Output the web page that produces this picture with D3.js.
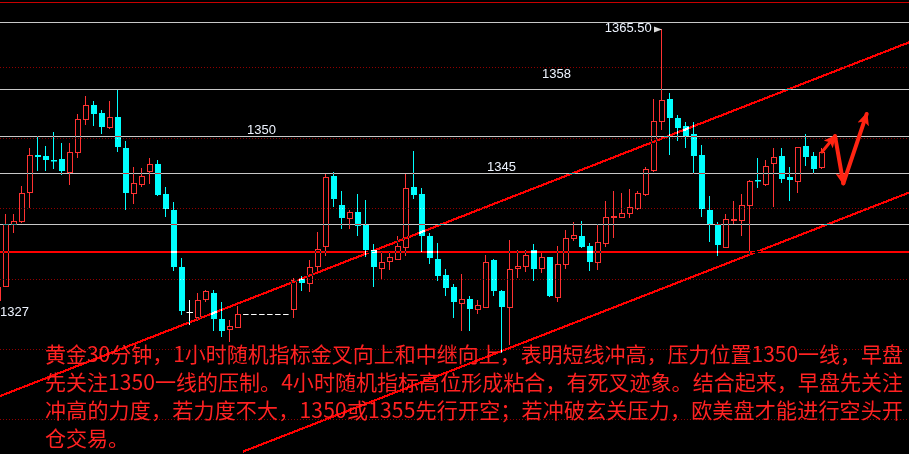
<!DOCTYPE html>
<html><head><meta charset="utf-8">
<script src="https://cdn.jsdelivr.net/npm/d3@7/dist/d3.min.js"></script>
<style>
html,body{margin:0;padding:0;background:#000;overflow:hidden}
svg{display:block}
</style></head><body>
<svg id="chart" width="909" height="454"></svg>
<script>
// ---------------- data ----------------
const candleIndex = d3.range(-1, 103);
const opens = [1327.0,
 1328.9,1337.7,1338.2,1342.3,1347.6,1347.4,1346.9,1347.0,1345.1,1348.0,
 1352.7,1354.7,1353.5,1351.5,1352.9,1348.6,1342.1,1343.4,1345.3,1346.2,
 1342.0,1339.8,1331.7,1325.3,1324.5,1327.1,1328.0,1324.2,1322.8,1323.1,
 null,null,null,null,null,null,
 1325.7,1330.0,1329.3,1331.8,1334.6,1344.5,1340.5,1338.6,1339.4,1337.6,
 1334.1,1331.5,1332.5,1332.8,1334.5,1343.0,1342.0,1336.1,1332.7,1330.5,
 1328.8,1326.5,1327.1,1325.6,1326.0,1332.6,1328.2,1325.9,1331.5,1331.8,
 1334.1,1331.5,1333.0,1327.4,1332.1,1335.8,1336.1,1334.6,1332.3,1335.1,
 1338.8,1338.7,1339.3,1340.0,1342.0,1345.4,1352.4,1355.5,1352.8,1351.6,
 1350.5,1347.5,1339.8,1337.7,1334.5,1338.3,1338.3,1340.5,1344.0,1343.4,
 1346.4,1347.4,1344.4,1343.9,1348.8,1347.4,1345.9];
const highs = [1328.8,
 1339.1,1339.1,1343.1,1348.6,1350.2,1348.8,1350.8,1349.2,1349.2,1353.3,
 1355.9,1355.2,1353.9,1355.2,1356.8,1349.5,1345.8,1345.7,1347.1,1346.8,
 1343.0,1340.8,1332.9,1326.9,1327.9,1328.3,1328.3,1326.6,1324.1,1326.1,
 null,null,null,null,null,null,
 1330.1,1330.4,1332.6,1336.6,1344.9,1345.1,1342.5,1339.8,1342.0,1341.1,
 1334.9,1333.7,1333.7,1336.0,1344.9,1348.1,1342.8,1336.4,1335.0,1331.3,
 1329.2,1330.7,1327.5,1327.0,1333.3,1332.7,1328.3,1335.4,1334.1,1334.0,
 1334.9,1333.6,1333.0,1334.6,1336.9,1338.0,1338.1,1335.0,1337.7,1341.0,
 1342.5,1342.1,1342.7,1342.5,1345.9,1355.5,1365.5,1356.4,1353.2,1352.2,
 1352.2,1348.9,1341.7,1338.0,1339.1,1341.0,1342.0,1344.0,1347.1,1346.9,
 1348.6,1348.5,1345.9,1348.7,1350.5,1348.0,1348.6];
const lows = [1326.9,
 1328.8,1336.5,1337.9,1340.0,1345.3,1345.3,1345.5,1344.7,1343.3,1347.1,
 1351.8,1351.7,1350.5,1351.2,1348.0,1339.7,1340.6,1343.0,1343.4,1341.7,
 1338.7,1331.0,1324.8,1323.4,1323.9,1326.7,1322.6,1321.7,1321.0,1323.0,
 null,null,null,null,null,null,
 1324.4,1328.2,1328.1,1331.0,1333.2,1340.2,1337.0,1337.1,1336.1,1333.1,
 1328.8,1329.9,1331.2,1332.7,1333.2,1341.3,1333.8,1332.0,1329.7,1327.5,
 1324.4,1322.5,1322.6,1325.0,1325.8,1327.5,1319.4,1320.5,1330.1,1330.9,
 1329.6,1330.8,1327.4,1326.7,1331.3,1335.3,1334.3,1331.1,1331.2,1334.5,
 1335.8,1338.6,1338.6,1339.7,1341.7,1345.1,1351.1,1347.5,1349.5,1348.5,
 1344.9,1338.7,1335.2,1333.2,1334.5,1337.7,1336.0,1333.4,1342.9,1343.2,
 1340.1,1343.6,1341.0,1342.1,1346.0,1344.9,1345.5];
const closes = [1328.8,
 1337.7,1338.2,1342.2,1347.6,1347.2,1346.8,1346.8,1345.3,1347.9,1352.7,
 1354.6,1353.4,1351.5,1353.0,1348.7,1342.1,1343.5,1344.6,1346.2,1341.8,
 1339.9,1331.6,1325.4,1325.3,1327.0,1328.2,1324.2,1322.6,1323.2,1325.0,
 null,null,null,null,null,null,
 1329.8,1329.3,1331.7,1334.2,1344.4,1341.3,1338.6,1339.4,1337.5,1334.0,
 1331.6,1332.3,1333.0,1334.6,1342.8,1341.9,1336.0,1332.9,1330.4,1328.7,
 1326.7,1327.1,1325.6,1326.2,1332.4,1328.2,1325.9,1331.4,1331.8,1333.4,
 1331.3,1333.0,1327.5,1332.1,1335.7,1336.2,1334.5,1332.3,1335.2,1338.7,
 1338.9,1339.3,1340.1,1342.2,1345.5,1352.4,1355.3,1352.8,1351.4,1350.2,
 1347.4,1339.9,1337.7,1334.7,1338.4,1338.5,1340.5,1343.8,1343.8,1346.0,
 1347.3,1344.1,1344.0,1348.7,1347.3,1345.6,1348.0];

const gridPrices = [1360, 1350, 1340, 1330, 1320, 1310];
const levelPrices = [1366.4, 1356.9, 1350.2, 1345.0, 1337.7];
const supportPrice = 1333.7;
const channelUpper = [[-0.69, 1313.3], [112.94, 1363.54]];
const channelLower = [[29.69, 1305.41], [112.94, 1342.2]];
const gapDash = [[29.7, 1325.0], [35.4, 1325.0]];
const labelTexts = ["1350", "1345", "1358", "1365.50", "1327"];
const labelIndex = [30.2, 60.2, 67.06, 74.9, -0.69];
const labelPrices = [1351.05, 1345.7, 1358.96, 1365.5, 1325.2];
const highMarkIndex = 82;
const forecastPath = [[102.06, 1347.97], [103.69, 1350.24], [104.73, 1343.52], [107.65, 1353.37]];
const commentLines = [
  "黄金30分钟，1小时随机指标金叉向上和中继向上，表明短线冲高，压力位置1350一线，早盘",
  "先关注1350一线的压制。4小时随机指标高位形成粘合，有死叉迹象。结合起来，早盘先关注",
  "冲高的力度，若力度不大，1350或1355先行开空；若冲破玄关压力，欧美盘才能进行空头开",
  "仓交易。"
];

// ---------------- chart ----------------
const W = 909, H = 454;
const svg = d3.select("#chart");
const x = d3.scaleLinear().domain([0, 102]).range([5.5, 821.5]);
const y = d3.scaleLinear().domain([1310, 1360]).range([419.3, 67.3]);

const RED = "#ff3232", CYAN = "#00ffff";

svg.append("rect").attr("width", W).attr("height", H).attr("fill", "#000");

const defs = svg.append("defs");
defs.append("marker").attr("id", "ah")
  .attr("markerUnits", "userSpaceOnUse")
  .attr("markerWidth", 14).attr("markerHeight", 12)
  .attr("refX", 11).attr("refY", 6).attr("orient", "auto")
  .append("path").attr("d", "M0,0 L13,6 L0,12 L3,6 z").attr("fill", "#ff2412");
defs.append("marker").attr("id", "ahs")
  .attr("markerUnits", "userSpaceOnUse")
  .attr("markerWidth", 8).attr("markerHeight", 8)
  .attr("refX", 7).attr("refY", 4).attr("orient", "auto")
  .append("path").attr("d", "M0,1 L8,4 L0,7 z").attr("fill", "#d8d8d8");

// candles
const candles = candleIndex.map((k, i) => ({k, o: opens[i], h: highs[i], l: lows[i], c: closes[i]}))
  .filter(d => d.o != null);
const gC = svg.append("g");
candles.forEach(d => {
  const cx = Math.floor(x(d.k)) + 0.5;
  const yh = Math.round(y(d.h)), yl = Math.round(y(d.l));
  const yo = Math.round(y(d.o)), yc = Math.round(y(d.c));
  if (d.c > d.o) {
    gC.append("line").attr("x1", cx).attr("x2", cx).attr("y1", yh).attr("y2", yl)
      .attr("stroke", RED).attr("stroke-width", 1);
    gC.append("rect").attr("x", cx - 2).attr("y", yc + 0.5)
      .attr("width", 5).attr("height", Math.max(yo - yc, 1))
      .attr("fill", "#000").attr("stroke", RED).attr("stroke-width", 1);
  } else if (d.c < d.o) {
    gC.append("line").attr("x1", cx).attr("x2", cx).attr("y1", yh).attr("y2", yl)
      .attr("stroke", CYAN).attr("stroke-width", 1);
    gC.append("rect").attr("x", cx - 2.5).attr("y", yo)
      .attr("width", 6).attr("height", Math.max(yc - yo, 1.5))
      .attr("fill", CYAN);
  } else {
    gC.append("line").attr("x1", cx).attr("x2", cx).attr("y1", yh).attr("y2", yl)
      .attr("stroke", "#fff").attr("stroke-width", 1);
    gC.append("line").attr("x1", cx - 3).attr("x2", cx + 3.5).attr("y1", yo + 0.5).attr("y2", yo + 0.5)
      .attr("stroke", "#fff").attr("stroke-width", 1);
  }
});

// gap dash
svg.append("line")
  .attr("x1", x(gapDash[0][0])).attr("x2", x(gapDash[1][0]))
  .attr("y1", Math.round(y(gapDash[0][1])) + 0.5).attr("y2", Math.round(y(gapDash[1][1])) + 0.5)
  .attr("stroke", "#fff").attr("stroke-width", 1).attr("stroke-dasharray", "5.5,2.5");

// overlay lines (XOR-like look)
const gL = svg.append("g");
gL.append("line").attr("x1", 0).attr("x2", W).attr("y1", 2.5).attr("y2", 2.5)
  .attr("stroke", "#c80000").attr("stroke-width", 1);
gridPrices.forEach(p => {
  gL.append("line").attr("x1", 0).attr("x2", W)
    .attr("y1", Math.round(y(p)) + 0.5).attr("y2", Math.round(y(p)) + 0.5)
    .attr("stroke", "#900000").attr("stroke-width", 1).attr("stroke-dasharray", "1,2")
    .style("mix-blend-mode", "difference");
});
levelPrices.forEach(p => {
  gL.append("line").attr("x1", 0).attr("x2", W)
    .attr("y1", Math.round(y(p)) + 0.5).attr("y2", Math.round(y(p)) + 0.5)
    .attr("stroke", "#c8c8c8").attr("stroke-width", 1)
    .style("mix-blend-mode", "difference");
});
gL.append("line").attr("x1", 0).attr("x2", W)
  .attr("y1", Math.round(y(supportPrice))).attr("y2", Math.round(y(supportPrice)))
  .attr("stroke", "#ff0000").attr("stroke-width", 2)
  .style("mix-blend-mode", "difference");
[channelUpper, channelLower].forEach(seg => {
  gL.append("line")
    .attr("x1", x(seg[0][0])).attr("y1", y(seg[0][1]))
    .attr("x2", x(seg[1][0])).attr("y2", y(seg[1][1]))
    .attr("stroke", "#ff0000").attr("stroke-width", 2.2)
    .attr("shape-rendering", "crispEdges")
    .style("mix-blend-mode", "difference");
});

// price labels
const gT = svg.append("g").attr("font-family", "'Liberation Sans', Arial, sans-serif")
  .attr("font-size", 13).attr("fill", "#eef4ff");
labelTexts.forEach((t, i) => {
  const tx = gT.append("text").attr("x", x(labelIndex[i])).attr("y", y(labelPrices[i]))
    .attr("dominant-baseline", "middle").text(t);
  if (t === "1365.50") {
    const end = x(labelIndex[i]) + tx.node().getComputedTextLength();
    svg.append("line").attr("x1", end + 3).attr("x2", x(highMarkIndex) - 0.5)
      .attr("y1", Math.round(y(labelPrices[i])) + 0.5).attr("y2", Math.round(y(labelPrices[i])) + 0.5)
      .attr("stroke", "#d8d8d8").attr("stroke-width", 1).attr("marker-end", "url(#ahs)");
  }
});

// forecast zigzag arrows
for (let i = 0; i < forecastPath.length - 1; i++) {
  const a = forecastPath[i], b = forecastPath[i + 1];
  svg.append("line")
    .attr("x1", x(a[0])).attr("y1", y(a[1]))
    .attr("x2", x(b[0])).attr("y2", y(b[1]))
    .attr("stroke", "#ff2412").attr("stroke-width", i === 0 ? 3 : 4)
    .attr("stroke-linecap", "round")
    .attr("marker-end", "url(#ah)");
}

// commentary text
const gTxt = svg.append("g").attr("font-family", "'Noto Sans CJK SC', sans-serif")
  .attr("font-size", 21).attr("fill", "#ff2222");
const lineY = [352.5, 381, 409, 436.5];
commentLines.forEach((t, i) => {
  const tx = gTxt.append("text").attr("x", 45).attr("y", lineY[i])
    .attr("dominant-baseline", "central").text(t);
  if (i < 3) tx.attr("textLength", 858).attr("lengthAdjust", "spacing");
});
</script>
</body></html>
